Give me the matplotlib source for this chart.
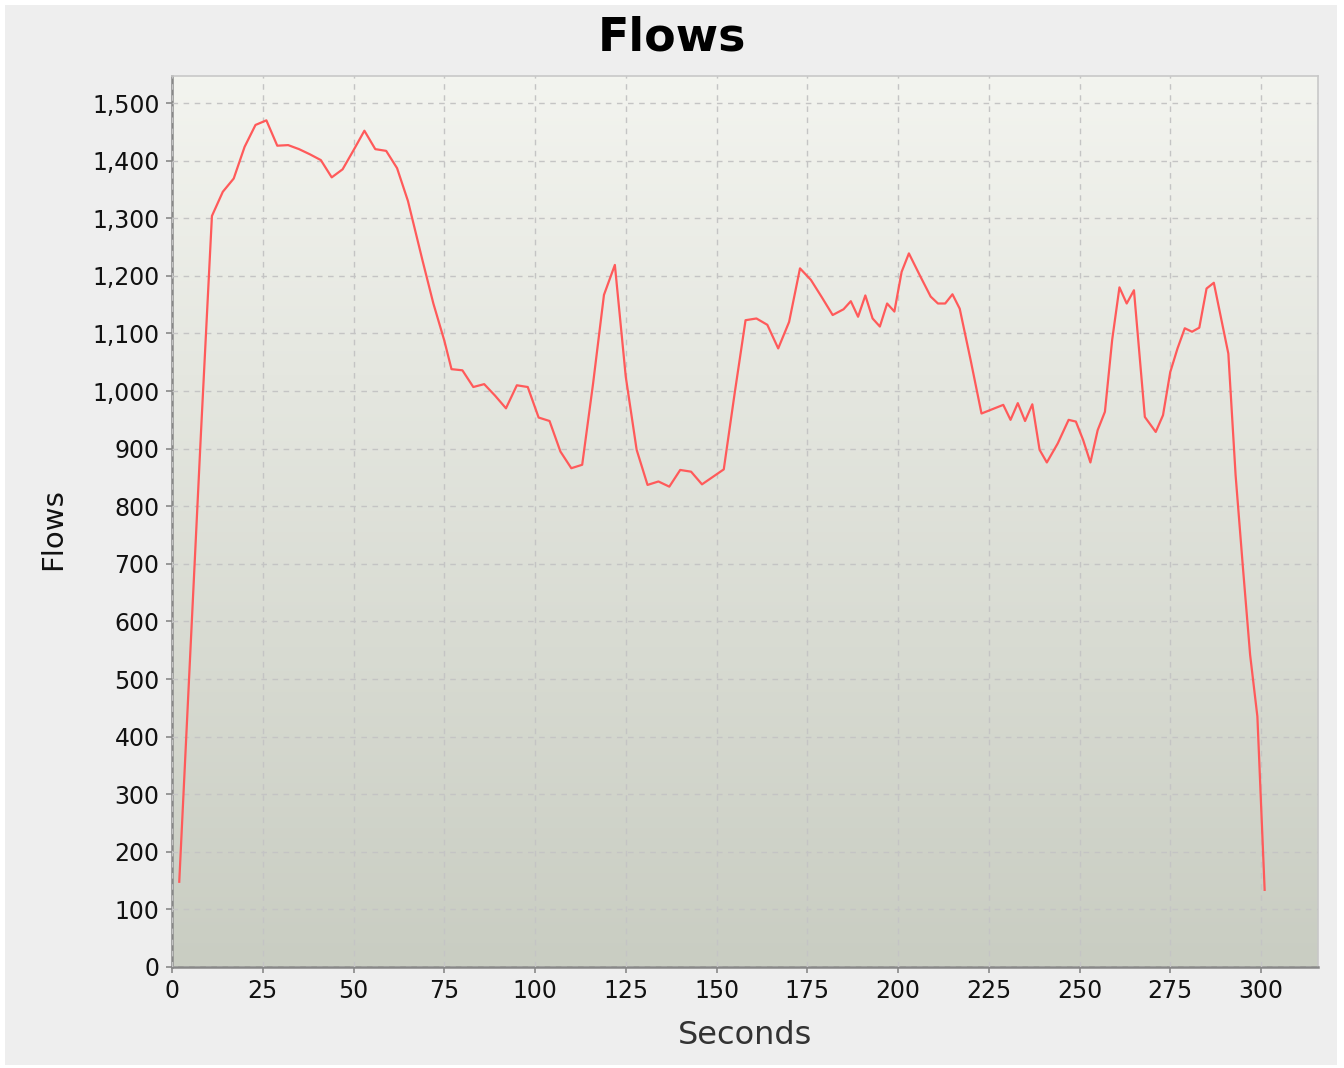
import numpy as np
import matplotlib
matplotlib.use("Agg")
import matplotlib.pyplot as plt
from matplotlib.ticker import FuncFormatter
from matplotlib.patches import Rectangle

# data
seconds = [2, 5, 8, 11, 14, 17, 20, 23, 26, 29, 32, 35, 38, 41, 44, 47, 50, 53, 56, 59,
           62, 65, 69, 72, 75, 77, 80, 83, 86, 89, 92, 95, 98, 101, 104, 107, 110, 113,
           116, 119, 122, 125, 128, 131, 134, 137, 140, 143, 146, 149, 152, 155, 158,
           161, 164, 167, 170, 173, 176, 179, 182, 185, 187, 189, 191, 193, 195, 197,
           199, 201, 203, 206, 209, 211, 213, 215, 217, 220, 223, 225, 229, 231, 233,
           235, 237, 239, 241, 244, 247, 249, 251, 253, 255, 257, 259, 261, 263, 265,
           268, 271, 273, 275, 277, 279, 281, 283, 285, 287, 291, 293, 295, 297, 299, 301]
flows = [148, 540, 930, 1304, 1346, 1369, 1424, 1462, 1470, 1426, 1427, 1420, 1411, 1401,
         1371, 1385, 1418, 1452, 1420, 1417, 1387, 1330, 1227, 1152, 1088, 1038, 1036,
         1007, 1012, 992, 970, 1010, 1007, 954, 948, 895, 866, 872, 1013, 1167, 1219,
         1025, 898, 837, 843, 834, 863, 860, 838, 851, 864, 996, 1123, 1126, 1115, 1074,
         1120, 1213, 1193, 1163, 1132, 1142, 1156, 1129, 1166, 1126, 1112, 1152, 1138,
         1207, 1239, 1201, 1164, 1152, 1152, 1168, 1143, 1054, 961, 966, 976, 950, 979,
         948, 977, 898, 876, 909, 950, 947, 915, 876, 932, 964, 1089, 1180, 1152, 1175,
         955, 929, 958, 1033, 1074, 1109, 1103, 1110, 1178, 1188, 1065, 854, 695, 542,
         435, 134]
x_ticks = list(range(0, 301, 25))
y_ticks = list(range(0, 1501, 100))

W, H = 1344, 1068
fig = plt.figure(figsize=(W / 100, H / 100), dpi=100, facecolor="white")
bg = Rectangle((5 / W, 3 / H), 1 - 12 / W, 1 - 8 / H, transform=fig.transFigure,
               facecolor="#EEEEEE", edgecolor="none", zorder=-10)
fig.patches.append(bg)

ax = fig.add_axes([172 / W, 1 - 967 / H, (1318 - 172) / W, (967 - 76) / H])
ax.set_zorder(1)
ax.set_xlim(0, 315.7)
ax.set_ylim(0, 1547)

# vertical gradient background like the java chart
grad = np.linspace(0, 1, 256).reshape(-1, 1)
top = np.array([0xF3, 0xF4, 0xEF]) / 255
bot = np.array([0xC9, 0xCD, 0xC2]) / 255
img = top * (1 - grad[..., None]) + bot * grad[..., None]
ax.imshow(img, extent=[0, 1, 0, 1], transform=ax.transAxes, aspect="auto", zorder=0)

ax.grid(True, color="#C4C4C4", linestyle=(0, (4, 4)), linewidth=1.0, zorder=1)
ax.set_axisbelow(False)
ax.plot(seconds, flows, color="#FF5A5A", linewidth=1.6, zorder=3)

ax.set_xticks(x_ticks)
ax.set_yticks(y_ticks)
ax.yaxis.set_major_formatter(FuncFormatter(lambda v, p: f"{int(v):,}"))
ax.tick_params(axis="both", length=4, width=1.2, color="#888888", labelsize=17,
               labelcolor="#111111", pad=5)

for s in ["left", "bottom"]:
    ax.spines[s].set_color("#888888")
    ax.spines[s].set_linewidth(1.8)
for s in ["top", "right"]:
    ax.spines[s].set_color("#C8C8C8")
    ax.spines[s].set_linewidth(1.2)

ax.set_xlabel("Seconds", fontsize=23, color="#333333")
ax.xaxis.set_label_coords(0.5, (967 - 1035) / 891)
ax.xaxis.label.set_va("center")
ax.set_ylabel("Flows", fontsize=21, color="#111111")
ax.yaxis.set_label_coords((53 - 172) / 1146, (967 - 529) / 891)
ax.yaxis.label.set_va("center")

fig.text(0.5, 1 - 38 / H, "Flows", ha="center", va="center", fontsize=33, fontweight="bold")

fig.savefig("out.png", dpi=100, facecolor=fig.get_facecolor())
